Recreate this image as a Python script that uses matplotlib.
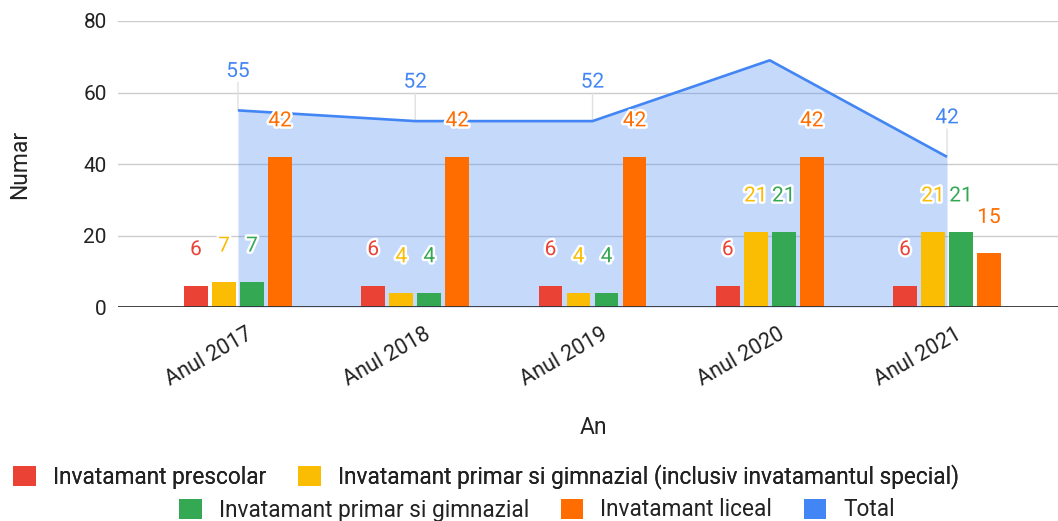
import matplotlib
matplotlib.use("Agg")
import matplotlib.pyplot as plt
import matplotlib.patheffects as pe
import matplotlib.transforms as mtrans
from matplotlib.patches import Patch
import numpy as np

plt.rcParams['font.family'] = ['Roboto', 'DejaVu Sans']

years = ["Anul 2017", "Anul 2018", "Anul 2019", "Anul 2020", "Anul 2021"]
prescolar = [6, 6, 6, 6, 6]
primar_special = [7, 4, 4, 21, 21]
primar = [7, 4, 4, 21, 21]
liceal = [42, 42, 42, 42, 15]
total = [55, 52, 52, 69, 42]
total_labeled = [True, True, True, False, True]

series_names = [
    "Invatamant prescolar",
    "Invatamant primar si gimnazial (inclusiv invatamantul special)",
    "Invatamant primar si gimnazial",
    "Invatamant liceal",
    "Total",
]
colors = ["#ea4335", "#fbbc04", "#34a853", "#ff6d01", "#4285f4"]
text_color = "#222222"

fig = plt.figure(figsize=(10.58, 5.21), dpi=100)
ax = fig.add_axes([0.1115, 0.4107, 0.8885, 0.549])

x = np.arange(len(years))
ax.set_xlim(-0.677, 4.626)
ax.set_ylim(0, 80)

# horizontal gridlines
for v in [20, 40, 60, 80]:
    ax.axhline(v, color="#cccccc", lw=1.0, zorder=0)

# total as a translucent area with an outline
ax.fill_between(x, total, 0, color=colors[4], alpha=0.3, lw=0, zorder=1)
ax.plot(x, total, color=colors[4], lw=1.9, zorder=4, solid_capstyle="butt")

pitch = 0.158
width = 0.135
bar_series = [prescolar, primar_special, primar, liceal]
offsets = [-1.5, -0.5, 0.5, 1.5]
stroke = [pe.withStroke(linewidth=3.5, foreground="white")]
for vals, off, col in zip(bar_series, offsets, colors[:4]):
    bars = ax.bar(x + off * pitch, vals, width=width, color=col, zorder=3, lw=0)
    for b, v in zip(bars, vals):
        ax.annotate(str(v), (b.get_x() + b.get_width() / 2, v),
                    xytext=(0, 36), textcoords="offset pixels",
                    ha="center", va="center", fontsize=15, color=col,
                    path_effects=stroke, zorder=6)

# total labels with thin stems
for xi, v, show in zip(x, total, total_labeled):
    if not show:
        continue
    ax.annotate("", (xi, v), xytext=(0, 28), textcoords="offset pixels",
                arrowprops=dict(arrowstyle="-", color="#e0e0e0", lw=1.0,
                                shrinkA=0, shrinkB=0), zorder=2)
    ax.annotate(str(v), (xi, v), xytext=(0, 39), textcoords="offset pixels",
                ha="center", va="center", fontsize=15, color=colors[4],
                path_effects=stroke, zorder=6)

# zero baseline
ax.axhline(0, color="#333333", lw=1.3, zorder=5)

for s in ax.spines.values():
    s.set_visible(False)

ax.set_yticks([0, 20, 40, 60, 80])
ax.tick_params(axis="y", length=0, pad=8, labelsize=15, labelcolor=text_color)
ax.set_xticks(x)
ax.set_xticklabels(years, rotation=30, ha="right", rotation_mode="anchor",
                   fontsize=15.5, color=text_color)
ax.tick_params(axis="x", length=0, pad=12)
offset = mtrans.ScaledTranslation(8 / 100, 0, fig.dpi_scale_trans)
for lbl in ax.get_xticklabels():
    lbl.set_transform(lbl.get_transform() + offset)

ax.set_ylabel("Numar", fontsize=16.5, color=text_color)
ax.yaxis.set_label_coords((31 - 118) / 940, 0.5)
fig.text(593 / 1058, 1 - 428 / 521, "An", ha="center", va="center",
         fontsize=16.5, color=text_color)

handles = [Patch(facecolor=c, edgecolor="none") for c in colors]
legend_kw = dict(loc="center", frameon=False, fontsize=16.3, handlelength=1.0,
                 handleheight=1.0, handletextpad=0.75, columnspacing=1.4,
                 labelcolor=text_color, borderpad=0, borderaxespad=0)
leg1 = fig.legend(handles[:2], series_names[:2], ncol=2,
                  bbox_to_anchor=(486 / 1058, 1 - 477 / 521), **legend_kw)
leg2 = fig.legend(handles[2:], series_names[2:], ncol=3,
                  bbox_to_anchor=(537 / 1058, 1 - 510 / 521), **legend_kw)
fig.add_artist(leg1)

fig.savefig("out.png", dpi=100)
